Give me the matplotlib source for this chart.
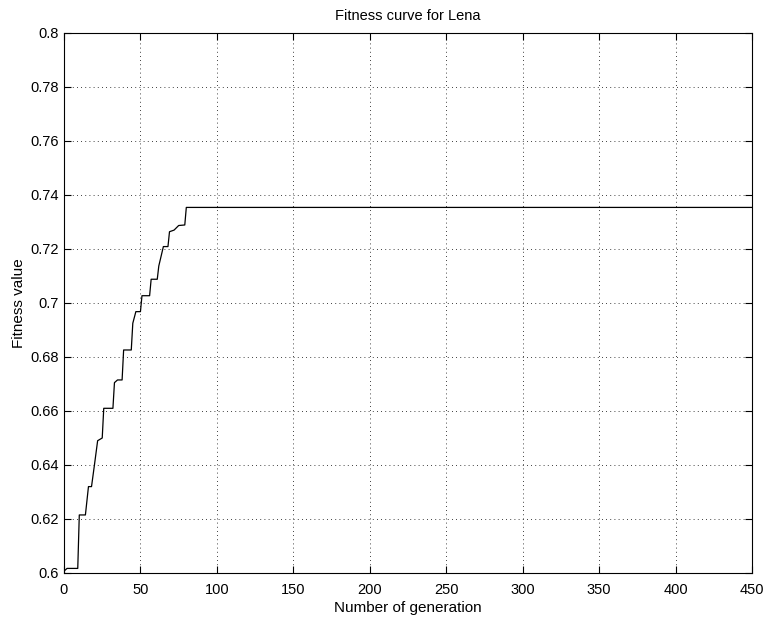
import matplotlib
matplotlib.use("Agg")
import matplotlib.pyplot as plt

# step points (generation, fitness)
generations = [0, 2, 9, 10, 14, 16, 18, 20, 22, 25, 26, 32, 33, 35, 38, 39,
               44, 45, 47, 50, 51, 56, 57, 61, 62, 65, 68, 69, 72, 75, 79, 80, 450]
fitness = [0.6007, 0.6017, 0.6017, 0.6215, 0.6215, 0.632, 0.632, 0.6404, 0.649, 0.650,
           0.661, 0.661, 0.6705, 0.6715, 0.6715, 0.6826, 0.6826, 0.6925, 0.6968, 0.6968,
           0.7027, 0.7027, 0.7088, 0.7088, 0.7137, 0.7209, 0.7209, 0.7264, 0.727,
           0.7287, 0.7289, 0.7354, 0.7354]

x_ticks = list(range(0, 451, 50))
y_ticks = [0.6, 0.62, 0.64, 0.66, 0.68, 0.7, 0.72, 0.74, 0.76, 0.78, 0.8]
y_labels = ["0.6", "0.62", "0.64", "0.66", "0.68", "0.7", "0.72", "0.74", "0.76", "0.78", "0.8"]

plt.rcParams["font.family"] = ["Liberation Sans", "DejaVu Sans"]
plt.rcParams["font.size"] = 10.5

fig = plt.figure(figsize=(7.67, 6.19), dpi=100)
W, H = 767, 619
ax = fig.add_axes([64 / W, 1 - 573 / H, (752 - 64) / W, (573 - 33) / H])

ax.plot(generations, fitness, color="black", linewidth=0.9)

ax.set_xlim(0, 450)
ax.set_ylim(0.6, 0.8)
ax.set_xticks(x_ticks)
ax.set_yticks(y_ticks)
ax.set_yticklabels(y_labels)
ax.tick_params(direction="in", top=True, right=True, length=5, width=0.8)
ax.tick_params(axis="x", pad=7)
ax.tick_params(axis="y", pad=4)
ax.grid(True, color="black", linestyle=(0, (1, 4)), linewidth=0.6)
for spine in ax.spines.values():
    spine.set_linewidth(0.8)

ax.set_title("Fitness curve for Lena", fontsize=10.5, pad=9)
ax.set_xlabel("Number of generation", fontsize=11, labelpad=3)
ax.set_ylabel("Fitness value", fontsize=11, labelpad=3)

fig.savefig("out.png", dpi=100)
